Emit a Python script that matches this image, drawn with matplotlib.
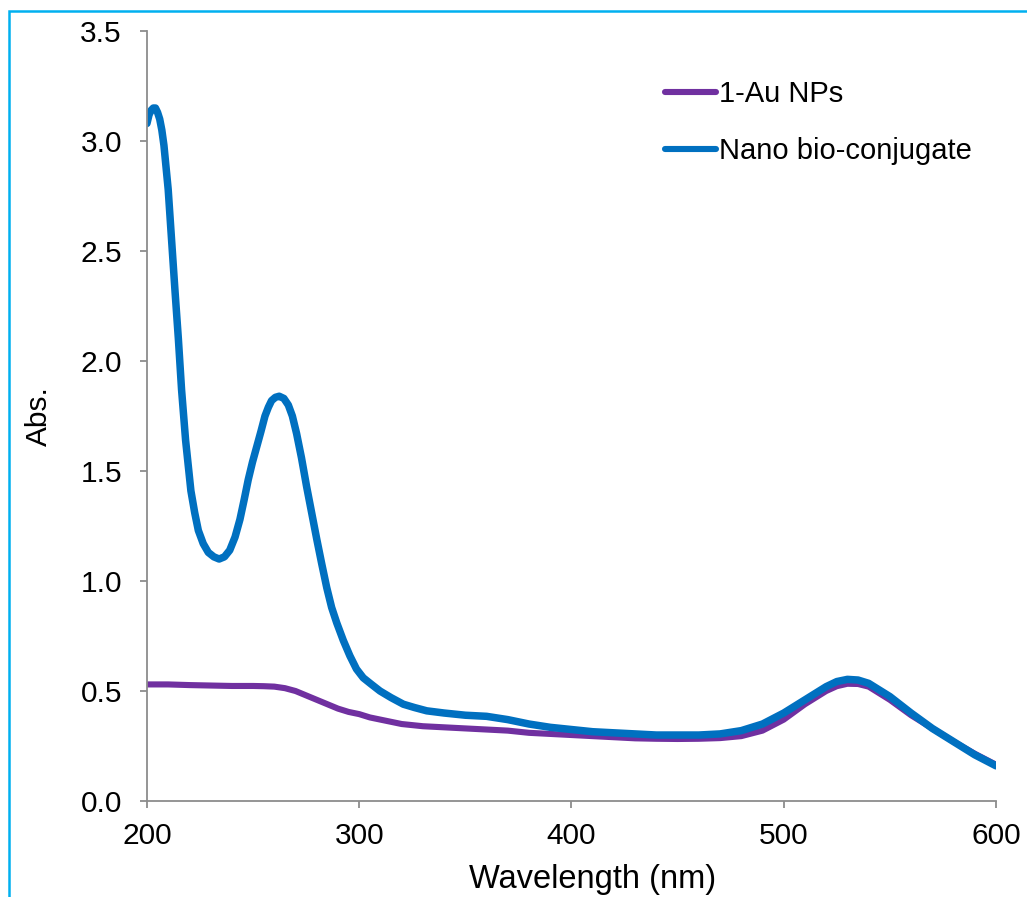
import matplotlib
matplotlib.use('Agg')
import matplotlib.pyplot as plt
from matplotlib.patches import Rectangle
import numpy as np

plt.rcParams['font.family'] = ['Liberation Sans', 'DejaVu Sans']

# UV-vis spectra, absorbance vs wavelength (nm)
wl_conj = [200, 201, 202, 203, 204, 205, 206, 207, 208, 209, 210, 211.6, 213.2, 214.8,
           216.3, 218.2, 220.7, 222.5, 224.2, 226.5, 228.9, 231.5, 234, 236.5, 239,
           241.5, 243.8, 245.8, 247.7, 249.7, 251.7, 253.7, 255.6, 257.2, 258.7, 260.5,
           262.3, 264.5, 266.6, 268.5, 270.5, 272.8, 275.2, 277.6, 280, 282.3, 284.7,
           287, 289.4, 292.5, 295.6, 298.7, 301.9, 305.8, 309.8, 315, 320.8, 326, 331.8,
           340, 350, 360, 370, 380, 390, 400, 410, 420, 430, 440, 450, 460, 470, 480,
           490, 500, 510, 520, 525, 530, 535, 540, 550, 560, 570, 580, 590, 600]
abs_conj = [3.08, 3.12, 3.14, 3.15, 3.15, 3.13, 3.10, 3.05, 2.98, 2.88, 2.78, 2.55, 2.32, 2.10,
            1.87, 1.64, 1.41, 1.31, 1.23, 1.17, 1.13, 1.11, 1.10, 1.11, 1.14,
            1.20, 1.28, 1.37, 1.46, 1.54, 1.61, 1.68, 1.75, 1.79, 1.82, 1.835,
            1.84, 1.83, 1.80, 1.75, 1.67, 1.56, 1.43, 1.31, 1.19, 1.08, 0.97,
            0.88, 0.81, 0.73, 0.66, 0.60, 0.56, 0.53, 0.50, 0.47, 0.44, 0.425, 0.41,
            0.40, 0.39, 0.385, 0.37, 0.35, 0.335, 0.325, 0.315, 0.31, 0.305, 0.30, 0.30, 0.30, 0.305, 0.32,
            0.35, 0.40, 0.46, 0.52, 0.543, 0.553, 0.55, 0.535, 0.475, 0.40, 0.33, 0.27, 0.21, 0.16]

wl_au = [200, 210, 220, 230, 240, 250, 255, 260, 265, 270, 275, 280, 285, 290, 295, 300,
         305, 310, 315, 320, 325, 330, 340, 350, 360, 370, 380, 390, 400, 410, 420, 430,
         440, 450, 460, 470, 480, 490, 500, 510, 520, 525, 530, 535, 540, 550, 560, 570,
         580, 590, 600]
abs_au = [0.53, 0.53, 0.527, 0.525, 0.523, 0.523, 0.522, 0.52, 0.513, 0.50, 0.48, 0.46, 0.44,
          0.42, 0.405, 0.395, 0.38, 0.37, 0.36, 0.35, 0.345, 0.34, 0.335, 0.33, 0.325, 0.32,
          0.31, 0.305, 0.30, 0.295, 0.29, 0.285, 0.283, 0.282, 0.283, 0.286, 0.295, 0.32,
          0.37, 0.44, 0.50, 0.522, 0.533, 0.532, 0.52, 0.46, 0.39, 0.33, 0.27, 0.215, 0.165]

labels = ['1-Au NPs', 'Nano bio-conjugate']
colors = ['#7030A0', '#0070C0']

fig = plt.figure(figsize=(10.27, 8.97), dpi=100)
ax = fig.add_axes([0.1431, 0.1070, 0.8267, 0.8584])

ax.plot(wl_au, abs_au, color=colors[0], lw=4.4, label=labels[0],
        solid_joinstyle='round', solid_capstyle='round')
ax.plot(wl_conj, abs_conj, color=colors[1], lw=5.4, label=labels[1],
        solid_joinstyle='round', solid_capstyle='round')

ax.set_xlim(200, 600)
ax.set_ylim(0, 3.5)
ax.set_xticks(np.arange(200, 601, 100))
ax.set_yticks(np.arange(0, 3.51, 0.5))
ax.yaxis.set_major_formatter(matplotlib.ticker.FormatStrFormatter('%.1f'))

for side in ['top', 'right']:
    ax.spines[side].set_visible(False)
for side in ['left', 'bottom']:
    ax.spines[side].set_color('#8c8c8c')
    ax.spines[side].set_linewidth(1.3)
ax.tick_params(axis='both', direction='out', length=5, width=1.3, color='#8c8c8c',
               labelsize=21.5)
ax.tick_params(axis='x', pad=10)
ax.tick_params(axis='y', pad=13)

ax.set_xlabel('Wavelength (nm)', fontsize=23.5, labelpad=10)
ax.xaxis.label.set_x(0.525)
ax.set_ylabel('Abs.', fontsize=21.5, labelpad=20)

leg = ax.legend(loc='upper left', bbox_to_anchor=(0.6475, 0.911),
                bbox_transform=fig.transFigure, frameon=False, fontsize=21,
                handlelength=1.75, handletextpad=0.1, labelspacing=1.0,
                borderpad=0, borderaxespad=0)
for line in leg.get_lines():
    line.set_linewidth(4.4)
    line.set_solid_capstyle('round')

# light blue outline around the chart area
fig.patches.append(Rectangle((8.5 / 1027, -0.05), 1.2, 1 - 11.5 / 897 + 0.05,
                             transform=fig.transFigure, fill=False,
                             edgecolor='#00B0F0', lw=1.8))

fig.savefig('out.png', dpi=100)
